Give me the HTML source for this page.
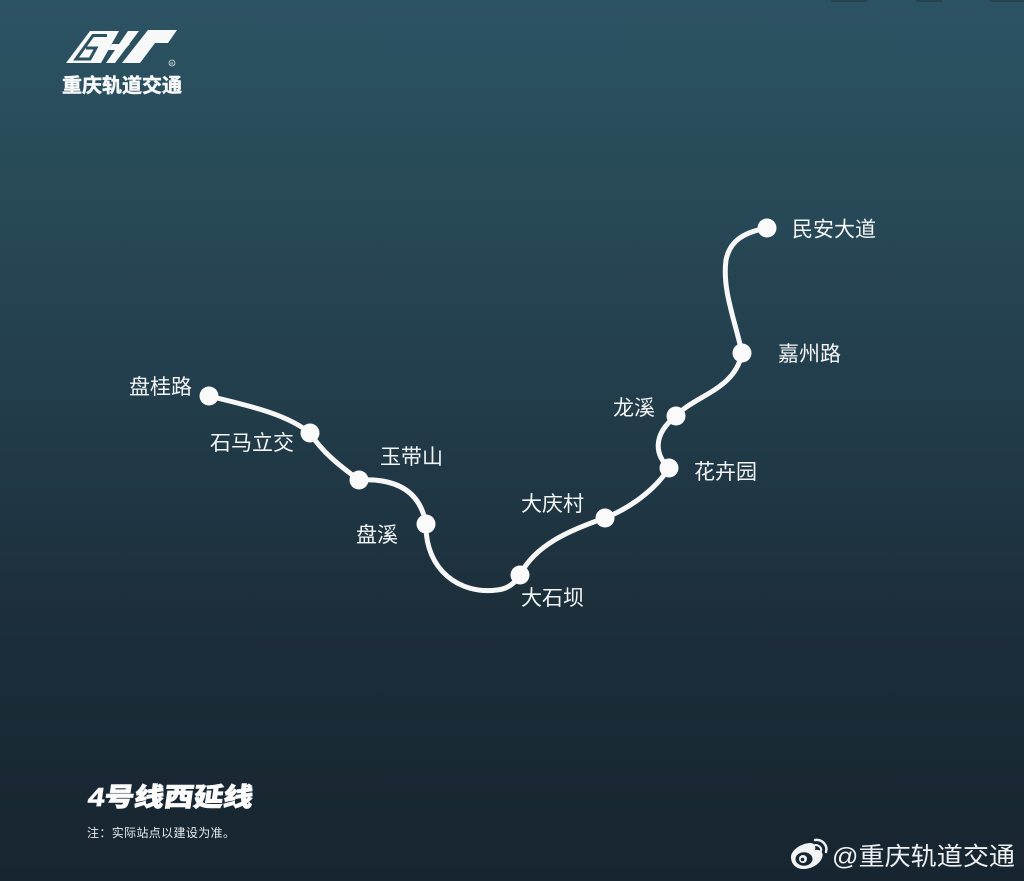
<!DOCTYPE html>
<html lang="zh">
<head>
<meta charset="utf-8">
<title>4号线西延线</title>
<style>
html,body{margin:0;padding:0;background:#18262f}
svg{display:block}
text{font-family:"Liberation Sans","Noto Sans CJK SC",sans-serif}
.st{font-size:21px;fill:#f4f6f6}
</style>
</head>
<body>
<svg xmlns="http://www.w3.org/2000/svg" width="1024" height="881" viewBox="0 0 1024 881">
<defs>
<linearGradient id="bg" x1="0" y1="0" x2="0" y2="1">
<stop offset="0" stop-color="#2c5364"/>
<stop offset="0.25" stop-color="#274856"/>
<stop offset="0.5" stop-color="#213a48"/>
<stop offset="0.7" stop-color="#1c2e3a"/>
<stop offset="1" stop-color="#172530"/>
</linearGradient>
</defs>
<rect width="1024" height="881" fill="url(#bg)"/>
<g fill="#27434f">
<rect x="831" y="0" width="36" height="2"/>
<rect x="916" y="0" width="26" height="2"/>
<rect x="990" y="0" width="34" height="2"/>
</g>

<!-- logo -->
<g fill="#f7f9f9">
<polygon points="66,63 90,31 119,31 101,63"/>
<polygon points="128,31 139,31 115,63 106,63"/>
<polygon points="148,30 177,30 168,43 155,43 140,63 122,63"/>
<polygon points="112,44 130,44 124,50 108,50"/>
</g>
<polyline points="107,35.500 93,35.500 76,59 90,59 96,48 86,48" fill="none" stroke="#2c5161" stroke-width="3"/>
<circle cx="172" cy="63" r="3" fill="none" stroke="#dfe5e7" stroke-width="0.8"/>
<text x="172" y="65" text-anchor="middle" font-size="4.500" fill="#dfe5e7">R</text>
<text x="122" y="92" text-anchor="middle" font-size="19.500" font-weight="700" fill="#f7f9f9" textLength="120" lengthAdjust="spacingAndGlyphs" stroke="#f7f9f9" stroke-width="0.5">重庆轨道交通</text>

<!-- line -->
<path d="M209 396 C245 405 285 413 310 433 C322 452 340 466 359 480 C395 478 420 490 426 524 C425 570 460 595 497 590 C508 589 515 583 520 575 C535 545 570 530 605 518 C630 508 655 490 669 468 C655 455 652 435 676 416 C695 395 735 390 742 353 C735 320 722 290 726 260 C730 240 745 232 767 228" fill="none" stroke="#f7f7f7" stroke-width="5" stroke-linecap="round" stroke-linejoin="round"/>
<g fill="#fafafa">
<circle cx="767" cy="228" r="9.500"/>
<circle cx="742" cy="353" r="9.500"/>
<circle cx="676" cy="416" r="9.500"/>
<circle cx="669" cy="468" r="9.500"/>
<circle cx="605" cy="518" r="9.500"/>
<circle cx="520" cy="575" r="9.500"/>
<circle cx="426" cy="524" r="9.500"/>
<circle cx="359" cy="480" r="9.500"/>
<circle cx="310" cy="433" r="9.500"/>
<circle cx="209" cy="396" r="9.500"/>
</g>

<!-- labels -->
<text class="st" x="792" y="236.500">民安大道</text>
<text class="st" x="778" y="361">嘉州路</text>
<text class="st" x="613" y="415">龙溪</text>
<text class="st" x="694" y="479">花卉园</text>
<text class="st" x="521" y="511">大庆村</text>
<text class="st" x="521" y="605">大石坝</text>
<text class="st" x="356" y="542">盘溪</text>
<text class="st" x="380" y="464">玉带山</text>
<text class="st" x="210" y="450">石马立交</text>
<text class="st" x="129" y="394">盘桂路</text>

<!-- title -->
<text transform="translate(87 806) skewX(-8)" font-size="26" font-weight="900" fill="#fbfbfb" stroke="#fbfbfb" stroke-width="0.7" textLength="165" lengthAdjust="spacingAndGlyphs">4号线西延线</text>
<text x="87" y="837" font-size="12" fill="#e6eaec" textLength="148" lengthAdjust="spacing">注：实际站点以建设为准。</text>

<!-- weibo -->
<g>
<path d="M791 857 C791 850 802 843 810 843 C815 843 816 847 815 850 C821 849 824 853 822 858 C819 865 811 869 803 869 C796 869 791 864 791 857 Z" fill="#f2f4f4"/>
<ellipse cx="804" cy="859" rx="8.500" ry="6.800" fill="#17262f"/>
<circle cx="803" cy="859" r="4" fill="#f2f4f4"/>
<circle cx="802.500" cy="859.500" r="1.800" fill="#17262f"/>
<path d="M815 840 C822 839 828 845 826 852" fill="none" stroke="#f2f4f4" stroke-width="2.400" stroke-linecap="round"/>
<path d="M815 845 C819 845 822 848 821 851" fill="none" stroke="#f2f4f4" stroke-width="2" stroke-linecap="round"/>
</g>
<text x="832" y="865" font-size="25" fill="#eef1f2" textLength="183" lengthAdjust="spacingAndGlyphs">@重庆轨道交通</text>
</svg>
</body>
</html>
